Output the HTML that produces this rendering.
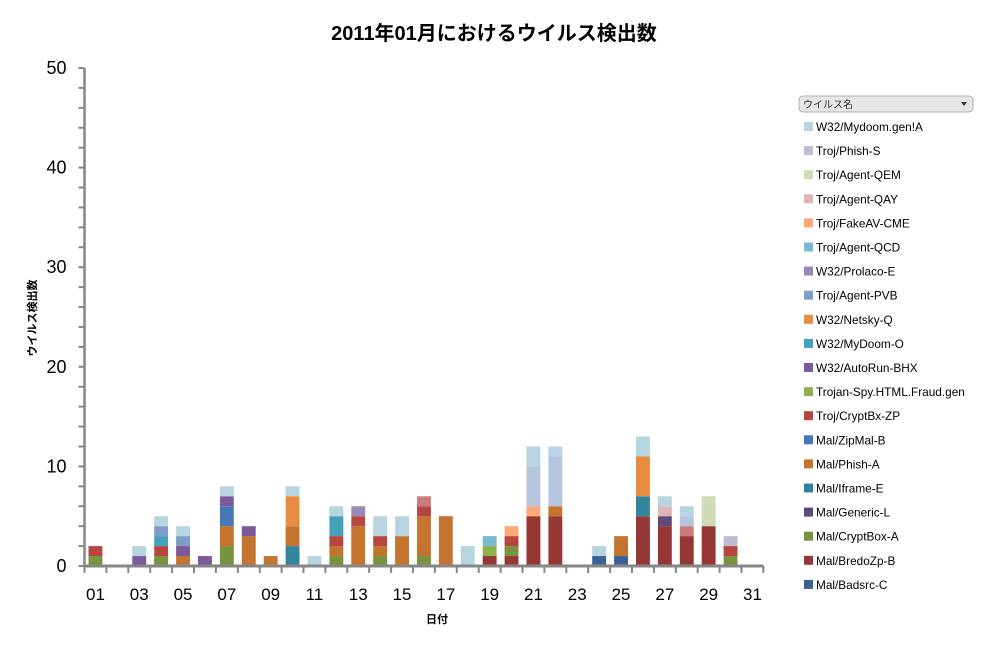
<!DOCTYPE html>
<html><head><meta charset="utf-8"><style>
body{margin:0;background:#fff;font-family:"Liberation Sans","Noto Sans CJK JP",sans-serif;}
svg text{font-family:"Liberation Sans","Noto Sans CJK JP",sans-serif;}
</style></head><body>
<svg id="chart" width="987" height="648" viewBox="0 0 987 648">
<rect width="987" height="648" fill="#fff"/>
<text x="494" y="40" text-anchor="middle" font-size="20" font-weight="bold" fill="#000">2011年01月におけるウイルス検出数</text>
<text transform="translate(36,318) rotate(-90)" text-anchor="middle" font-size="11" font-weight="bold">ウイルス検出数</text>
<text x="437" y="623" text-anchor="middle" font-size="11" font-weight="bold">日付</text>
<g id="bars"></g>
<g id="axes"></g>
<g id="legend">
<rect x="799" y="96" width="174" height="16" rx="4" fill="#e6e6e6" stroke="#b0b0b0"/>
<text x="803" y="108" font-size="10" fill="#333">ウイルス名</text>
<path d="M961 102 L967 102 L964 106 Z" fill="#333"/>
</g>
</svg>
<script>
const days = ["01","02","03","04","05","06","07","08","09","10","11","12","13","14","15","16","17","18","19","20","21","22","23","24","25","26","27","28","29","30","31"];
const yTicks = [0,10,20,30,40,50];
const seriesNames = ["Mal/Badsrc-C","Mal/BredoZp-B","Mal/CryptBox-A","Mal/Generic-L","Mal/Iframe-E","Mal/Phish-A","Mal/ZipMal-B","Troj/CryptBx-ZP","Trojan-Spy.HTML.Fraud.gen","W32/AutoRun-BHX","W32/MyDoom-O","W32/Netsky-Q","Troj/Agent-PVB","W32/Prolaco-E","Troj/Agent-QCD","Troj/FakeAV-CME","Troj/Agent-QAY","Other-B","Troj/Agent-QEM","Other-A","Troj/Phish-S","W32/Mydoom.gen!A"];
const seriesColors = ["#3a6296","#953735","#77933c","#604a7b","#31859c","#c4742f","#4a78b4","#b6463f","#8fb04f","#7b5a9a","#45a0ba","#e88d3f","#7f9dc9","#9c88b5","#78bad0","#f9a97a","#dfb4b4","#cb7b7a","#d0dcb8","#b5c4df","#c0bad3","#b7d5e0"];
const inLegend = [true,true,true,true,true,true,true,true,true,true,true,true,true,true,true,true,true,false,true,false,true,true];
const sBadsrc  = [0,0,0,0,0,0,0,0,0,0,0,0,0,0,0,0,0,0,0,0,0,0,0,1,1,0,0,0,0,0,0];
const sBredo   = [0,0,0,0,0,0,0,0,0,0,0,0,0,0,0,0,0,0,1,1,5,5,0,0,0,5,4,3,4,0,0];
const sCryptBox= [1,0,0,1,0,0,2,0,0,0,0,1,0,1,0,1,0,0,0,1,0,0,0,0,0,0,0,0,0,1,0];
const sGeneric = [0,0,0,0,0,0,0,0,0,0,0,0,0,0,0,0,0,0,0,0,0,0,0,0,0,0,1,0,0,0,0];
const sIframe  = [0,0,0,0,0,0,0,0,0,2,0,0,0,0,0,0,0,0,0,0,0,0,0,0,0,2,0,0,0,0,0];
const sPhishA  = [0,0,0,0,1,0,2,3,1,2,0,1,4,1,3,4,5,0,0,0,0,1,0,0,2,0,0,0,0,0,0];
const sZipMal  = [0,0,0,0,0,0,2,0,0,0,0,0,0,0,0,0,0,0,0,0,0,0,0,0,0,0,0,0,0,0,0];
const sCryptBx = [1,0,0,1,0,0,0,0,0,0,0,1,1,1,0,1,0,0,0,1,0,0,0,0,0,0,0,0,0,1,0];
const sSpy     = [0,0,0,0,0,0,0,0,0,0,0,0,0,0,0,0,0,0,1,0,0,0,0,0,0,0,0,0,0,0,0];
const sAutoRun = [0,0,1,0,1,1,1,1,0,0,0,0,0,0,0,0,0,0,0,0,0,0,0,0,0,0,0,0,0,0,0];
const sMyDoomO = [0,0,0,1,0,0,0,0,0,0,0,2,0,0,0,0,0,0,0,0,0,0,0,0,0,0,0,0,0,0,0];
const sNetsky  = [0,0,0,0,0,0,0,0,0,3,0,0,0,0,0,0,0,0,0,0,0,0,0,0,0,4,0,0,0,0,0];
const sPVB     = [0,0,0,1,1,0,0,0,0,0,0,0,0,0,0,0,0,0,0,0,0,0,0,0,0,0,0,0,0,0,0];
const sProlaco = [0,0,0,0,0,0,0,0,0,0,0,0,1,0,0,0,0,0,0,0,0,0,0,0,0,0,0,0,0,0,0];
const sQCD     = [0,0,0,0,0,0,0,0,0,0,0,0,0,0,0,0,0,0,1,0,0,0,0,0,0,0,0,0,0,0,0];
const sFakeAV  = [0,0,0,0,0,0,0,0,0,0,0,0,0,0,0,0,0,0,0,1,1,0,0,0,0,0,0,0,0,0,0];
const sQAY     = [0,0,0,0,0,0,0,0,0,0,0,0,0,0,0,0,0,0,0,0,0,0,0,0,0,0,1,0,0,0,0];
const sOtherB  = [0,0,0,0,0,0,0,0,0,0,0,0,0,0,0,1,0,0,0,0,0,0,0,0,0,0,0,1,0,0,0];
const sQEM     = [0,0,0,0,0,0,0,0,0,0,0,0,0,0,0,0,0,0,0,0,0,0,0,0,0,0,0,0,3,0,0];
const sOtherA  = [0,0,0,0,0,0,0,0,0,0,0,0,0,0,0,0,0,0,0,0,4,5,0,0,0,0,0,1,0,0,0];
const sPhishS  = [0,0,0,0,0,0,0,0,0,0,0,0,0,0,0,0,0,0,0,0,0,0,0,0,0,0,0,0,0,1,0];
const sMydoomGen=[0,0,1,1,1,0,1,0,0,1,1,1,0,2,2,0,0,2,0,0,2,1,0,1,0,2,1,1,0,0,0];
const seriesValues = [sBadsrc,sBredo,sCryptBox,sGeneric,sIframe,sPhishA,sZipMal,sCryptBx,sSpy,sAutoRun,sMyDoomO,sNetsky,sPVB,sProlaco,sQCD,sFakeAV,sQAY,sOtherB,sQEM,sOtherA,sPhishS,sMydoomGen];

const NS="http://www.w3.org/2000/svg";
const plotLeft=84.5, plotTop=68, plotBottom=566, catW=21.9, yMax=50;
const xBand = i => plotLeft + i*catW;
const yScale = v => plotBottom - v/yMax*(plotBottom-plotTop);
function mk(tag, attrs, parent){const e=document.createElementNS(NS,tag);for(const k in attrs)e.setAttribute(k,attrs[k]);parent.appendChild(e);return e;}

const bars=document.getElementById('bars');
days.forEach((d,i)=>{
  let cum=0;
  seriesValues.forEach((arr,s)=>{
    const v=arr[i]; if(!v) return;
    const y1=yScale(cum), y2=yScale(cum+v);
    const r=mk('rect',{x:xBand(i)+4,y:y2,width:catW-8,height:y1-y2,fill:seriesColors[s]},bars);
    
    
    cum+=v;
  });
});

const axes=document.getElementById('axes');
const ya=mk('line',{x1:plotLeft,y1:plotTop,x2:plotLeft,y2:plotBottom+1,stroke:'#868686','stroke-width':2.5},axes);


for(let v=0;v<=yMax;v+=2){
  const t=mk('line',{x1:plotLeft-6,y1:yScale(v),x2:plotLeft,y2:yScale(v),stroke:'#868686','stroke-width':2},axes);
  
  
}
yTicks.forEach(v=>{
  const t=mk('text',{x:plotLeft-18,y:yScale(v)+6,'text-anchor':'end','font-size':18,fill:'#000'},axes);
  t.textContent=v;
  
  
});
const xa=mk('line',{x1:plotLeft,y1:plotBottom,x2:xBand(days.length),y2:plotBottom,stroke:'#868686','stroke-width':3},axes);


for(let i=0;i<=days.length;i++){
  const t=mk('line',{x1:xBand(i),y1:plotBottom,x2:xBand(i),y2:plotBottom+7,stroke:'#868686','stroke-width':2},axes);
  
  
}
days.forEach((d,i)=>{
  if(i%2) return;
  const t=mk('text',{x:xBand(i)+catW/2,y:600,'text-anchor':'middle','font-size':17,fill:'#000'},axes);
  t.textContent=d;
  
  
});

const legend=document.getElementById('legend');
let row=0;
for(let s=seriesNames.length-1;s>=0;s--){
  if(!inLegend[s]) continue;
  const y=127+row*24.1;
  const g=mk('g',{},legend);
  
  
  mk('rect',{x:804,y:y-5,width:9,height:9,fill:seriesColors[s]},g);
  const t=mk('text',{x:816,y:y+4,'font-size':11.8,fill:'#000'},g);
  t.textContent=seriesNames[s];
  row++;
}
</script>
</body></html>
